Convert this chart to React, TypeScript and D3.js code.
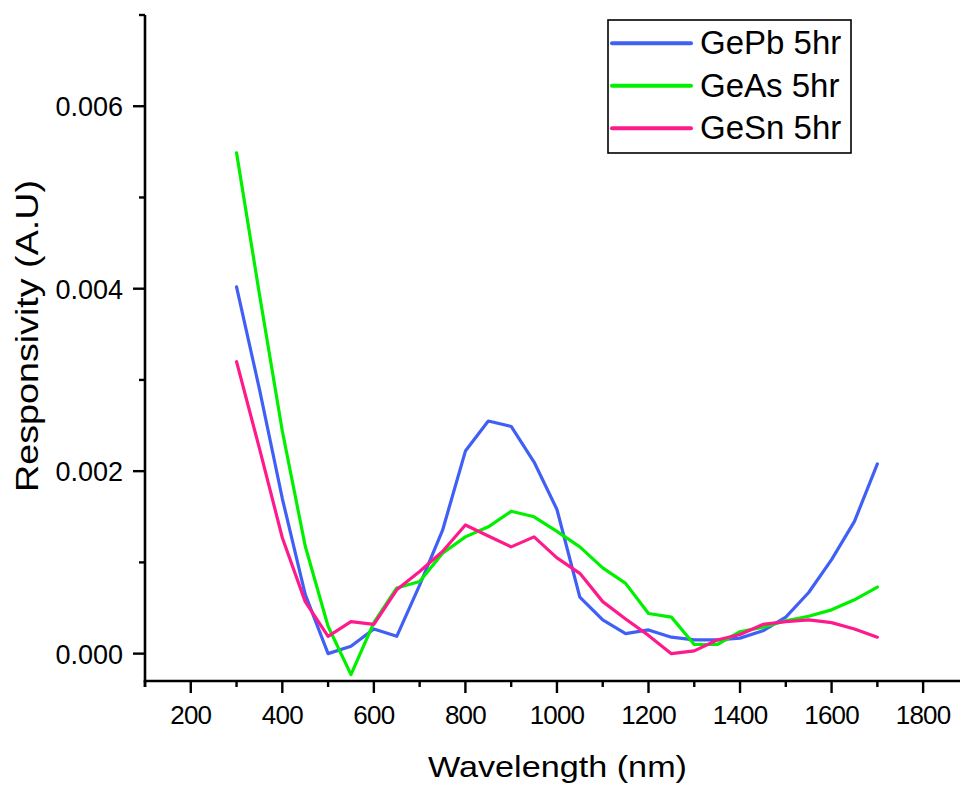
import React from "react";
import * as d3 from "d3";

const wavelengths = [300, 350, 400, 450, 500, 550, 600, 650, 700, 750, 800, 850, 900, 950, 1000, 1050, 1100, 1150, 1200, 1250, 1300, 1350, 1400, 1450, 1500, 1550, 1600, 1650, 1700];

const gePb = [0.00402, 0.0029, 0.0017, 0.00065, 0.0, 0.00008, 0.00027, 0.00019, 0.00075, 0.00135, 0.00222, 0.00255, 0.00249, 0.0021, 0.00158, 0.00062, 0.00037, 0.00022, 0.00026, 0.00018, 0.00015, 0.00015, 0.00017, 0.00025, 0.0004, 0.00067, 0.00103, 0.00145, 0.00208];
const geAs = [0.00549, 0.00394, 0.00244, 0.00118, 0.0003, -0.00023, 0.00034, 0.00072, 0.00079, 0.0011, 0.00128, 0.00139, 0.00156, 0.0015, 0.00134, 0.00117, 0.00094, 0.00077, 0.00044, 0.0004, 0.0001, 0.0001, 0.00024, 0.00029, 0.00036, 0.00041, 0.00048, 0.00059, 0.00073];
const geSn = [0.0032, 0.00225, 0.00127, 0.00057, 0.00019, 0.00035, 0.00032, 0.0007, 0.0009, 0.00112, 0.00141, 0.00129, 0.00117, 0.00128, 0.00105, 0.00088, 0.00057, 0.00038, 0.0002, 0.0, 0.00003, 0.00015, 0.00021, 0.00032, 0.00035, 0.00037, 0.00034, 0.00027, 0.00018];

const seriesNames = ["GePb 5hr", "GeAs 5hr", "GeSn 5hr"];
const seriesColors = ["#4060f5", "#00f000", "#ff1a8c"];
const seriesValues = [gePb, geAs, geSn];

const xMajorTicks = [200, 400, 600, 800, 1000, 1200, 1400, 1600, 1800];
const xMinorTicks = [100, 300, 500, 700, 900, 1100, 1300, 1500, 1700, 1900];
const yMajorTicks = [0, 0.002, 0.004, 0.006];
const yMinorTicks = [0.001, 0.003, 0.005, 0.007];

export default function App() {
  const x = d3.scaleLinear().domain([100, 1900]).range([145, 968.9]);
  const y = d3.scaleLinear().domain([-0.0003, 0.007]).range([681, 15]);
  const line = d3
    .line<[number, number]>()
    .x((d) => x(d[0]))
    .y((d) => y(d[1]));
  const font = "'Liberation Sans', Arial, sans-serif";
  const fmt = d3.format(".3f");

  return (
    <svg width={960} height={785} style={{ position: "absolute", left: 0, top: 0, background: "#fff" }} fontFamily={font}>
      {seriesValues.map((vals, i) => (
        <path
          key={i}
          d={line(wavelengths.map((w, j) => [w, vals[j]] as [number, number])) || ""}
          fill="none"
          stroke={seriesColors[i]}
          strokeWidth={3.2}
          strokeLinejoin="round"
          strokeLinecap="round"
        />
      ))}
      {/* axes */}
      <line x1={145} x2={145} y1={15} y2={687} stroke="#000" strokeWidth={2.6} />
      <line x1={143.7} x2={960} y1={681} y2={681} stroke="#000" strokeWidth={2.6} />
      {yMajorTicks.map((t) => (
        <g key={"ym" + t}>
          <line x1={133} x2={145} y1={y(t)} y2={y(t)} stroke="#000" strokeWidth={2.4} />
          <text x={123} y={y(t) + 10} textAnchor="end" fontSize={27}>
            {fmt(t)}
          </text>
        </g>
      ))}
      {yMinorTicks.map((t) => (
        <line key={"yn" + t} x1={139} x2={145} y1={y(t)} y2={y(t)} stroke="#000" strokeWidth={2.4} />
      ))}
      {xMajorTicks.map((t) => (
        <g key={"xm" + t}>
          <line x1={x(t)} x2={x(t)} y1={681} y2={693} stroke="#000" strokeWidth={2.4} />
          <text x={x(t)} y={724} textAnchor="middle" fontSize={26} letterSpacing={-0.8}>
            {t}
          </text>
        </g>
      ))}
      {xMinorTicks.map((t) => (
        <line key={"xn" + t} x1={x(t)} x2={x(t)} y1={681} y2={687} stroke="#000" strokeWidth={2.4} />
      ))}
      <text x={557.5} y={777} textAnchor="middle" fontSize={30} textLength={259} lengthAdjust="spacingAndGlyphs">
        Wavelength (nm)
      </text>
      <text
        transform="translate(38,336) rotate(-90)"
        textAnchor="middle"
        fontSize={32}
        textLength={312}
        lengthAdjust="spacingAndGlyphs"
      >
        Responsivity (A.U)
      </text>
      {/* legend */}
      <rect x={608} y={20} width={243} height={133} fill="#fff" stroke="#000" strokeWidth={1.6} />
      {seriesNames.map((n, i) => {
        const cy = 43.3 + i * 42.5;
        return (
          <g key={n}>
            <line x1={612} x2={691} y1={cy} y2={cy} stroke={seriesColors[i]} strokeWidth={4} strokeLinecap="round" />
            <text x={700} y={cy + 11} fontSize={33}>
              {n}
            </text>
          </g>
        );
      })}
    </svg>
  );
}
